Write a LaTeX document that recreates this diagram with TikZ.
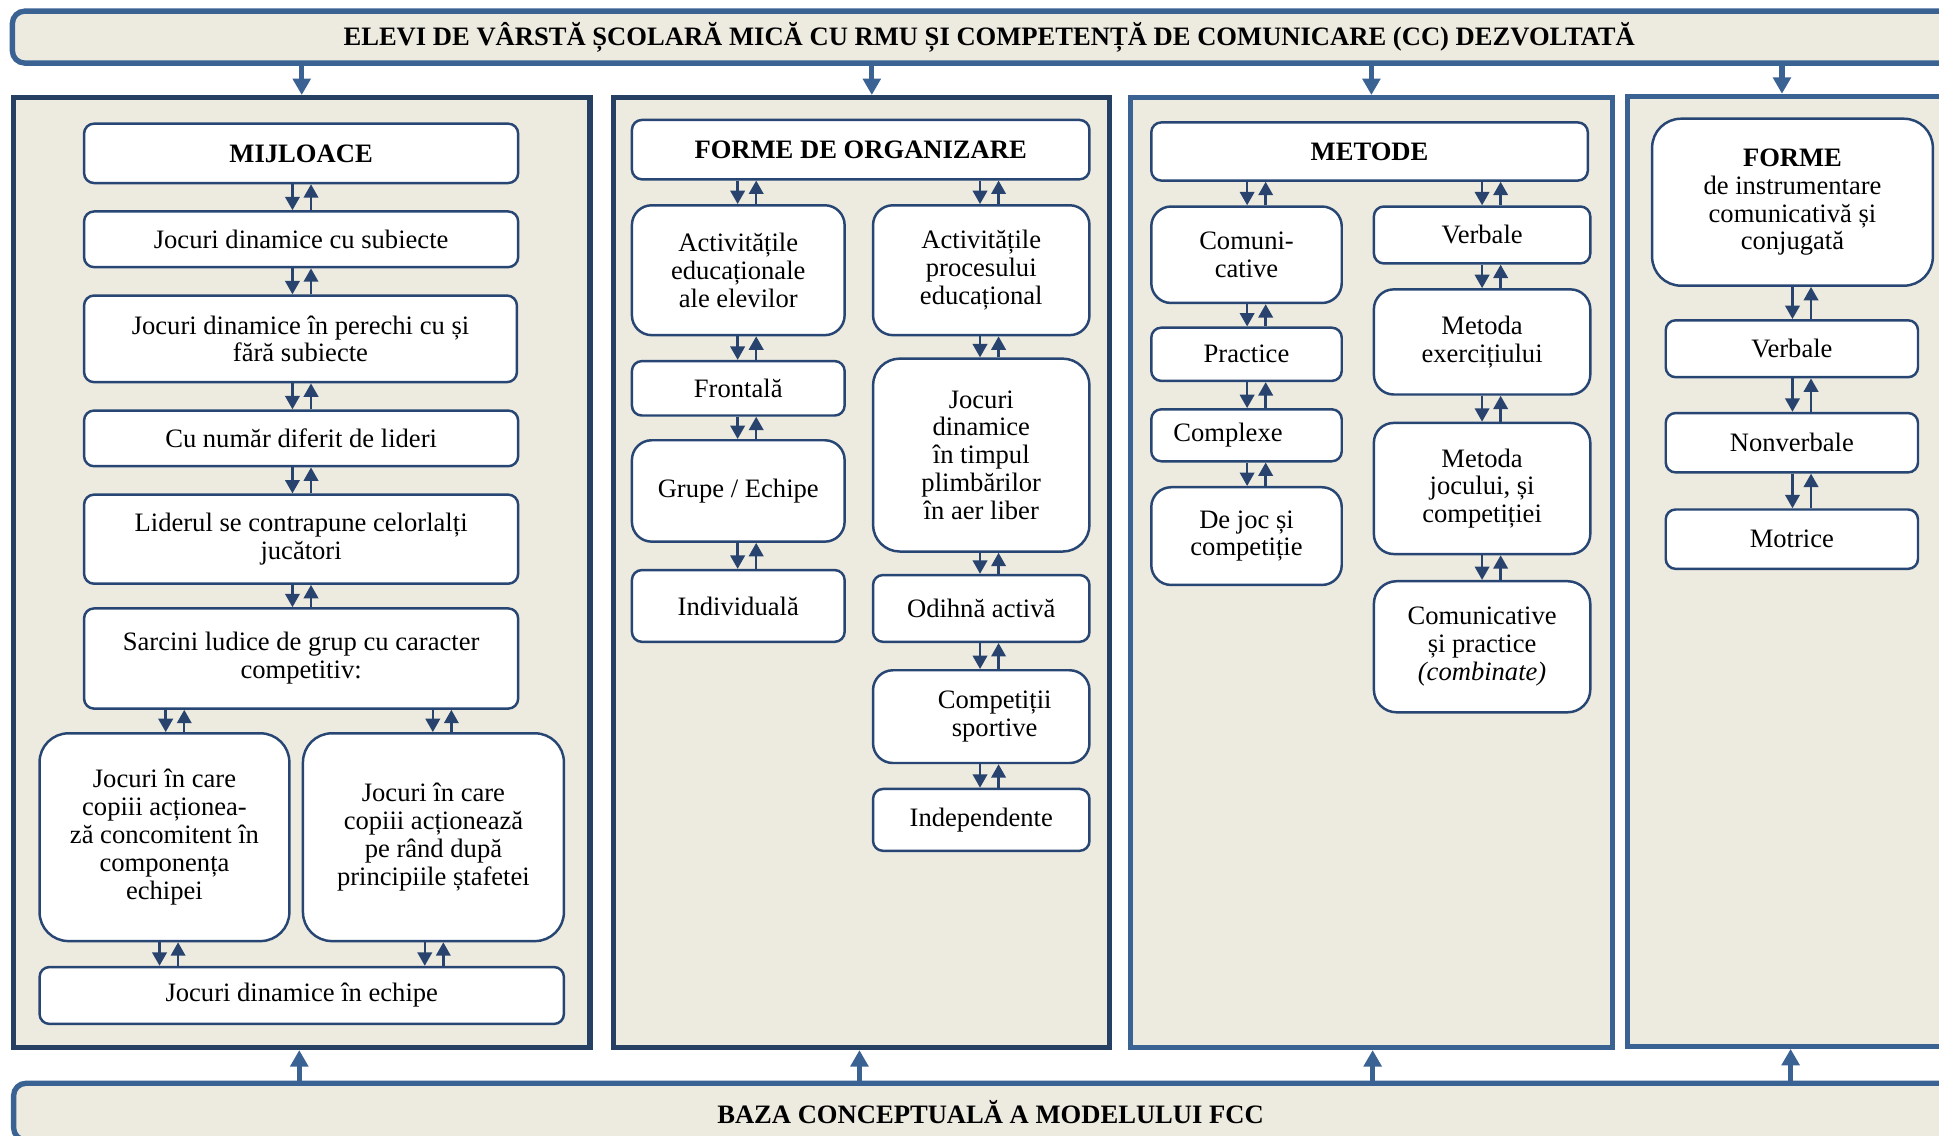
\documentclass[tikz,border=0pt]{standalone}
\usepackage{fontspec}
\setmainfont{Liberation Serif}
\usetikzlibrary{arrows.meta}
\definecolor{beige}{RGB}{237,234,224}
\definecolor{darknavy}{RGB}{38,64,100}
\definecolor{medblue}{RGB}{58,99,148}
\definecolor{nodeblue}{RGB}{40,70,115}
\definecolor{arrblue}{RGB}{40,68,110}
\newcommand\mybox[7][]{%
  \node[bx,#1,minimum width={(#4-#2)*0.6pt},minimum height={(#5-#3)*0.6pt}] (#6) at ({(#2+#4)/2},{(#3+#5)/2}) {#7};}
\newcommand\dbl[3]{%
  \coordinate (dL) at ({#3-7.5},0);
  \coordinate (dR) at ({#3+7.5},0);
  \draw[arr] (#1.south -| dL) -- (#2.north -| dL);
  \draw[arr] (#2.north -| dR) -- (#1.south -| dR);}
\begin{document}
\begin{tikzpicture}[x=0.6pt,y=-0.6pt,
  txt/.style={font=\fontsize{12.9}{13.5}\selectfont},
  bx/.style={txt,draw=nodeblue,fill=white,line width=1.2pt,rounded corners=4.8pt,align=center,inner sep=0pt},
  bigr/.style={rounded corners=9.6pt},
  hugr/.style={rounded corners=14pt},
  panel/.style={draw=#1,fill=beige,line width=2.6pt,inner sep=0pt},
  banner/.style={txt,draw=medblue,fill=beige,line width=2.6pt,rounded corners=6pt,inner sep=0pt,font=\fontsize{12.9}{13.5}\selectfont\bfseries},
  arr/.style={draw=arrblue,line width=1.2pt,-{Triangle[width=7pt,length=6.5pt]}},
  barr/.style={draw=medblue,line width=2.5pt,-{Triangle[width=8.5pt,length=8pt]}}]
\useasboundingbox (0,0) rectangle (1568,918);
\fill[white] (0,0) rectangle (1568,918);
% banners
\node[banner,minimum width={1580*0.6pt},minimum height={42*0.6pt}] (top) at (800,30) {ELEVI DE VÂRSTĂ ȘCOLARĂ MICĂ CU RMU ȘI COMPETENȚĂ DE COMUNICARE (CC) DEZVOLTATĂ};
\node[banner,minimum width={1580*0.6pt},minimum height={46*0.6pt}] (bot) at (801,899) {BAZA CONCEPTUALĂ A MODELULUI FCC};
% panels
\node[panel=darknavy,minimum width={466*0.6pt},minimum height={768*0.6pt}] (p1) at (244,463) {};
\node[panel=darknavy,minimum width={401*0.6pt},minimum height={768*0.6pt}] (p2) at (696.5,463) {};
\node[panel=medblue,minimum width={390*0.6pt},minimum height={768*0.6pt}] (p3) at (1109,463) {};
\node[panel=medblue,minimum width={290*0.6pt},minimum height={768*0.6pt}] (p4) at (1461,462) {};
% banner arrows
\foreach \p/\xa/\xb in {p1/244/242,p2/705/695,p3/1109/1110,p4/1441/1448}{
  \coordinate (ta) at (\xa,0);
  \coordinate (tb) at (\xb,0);
  \draw[barr] (top.south -| ta) -- (\p.north -| ta);
  \draw[barr] (bot.north -| tb) -- (\p.south -| tb);
}
% panel 1
\mybox[font=\fontsize{12.9}{13.5}\selectfont\bfseries]{68}{100}{419}{148}{m0}{MIJLOACE}
\mybox{68}{171}{419}{216}{m1}{Jocuri dinamice cu subiecte}
\mybox{68}{239}{418}{309}{m2}{Jocuri dinamice în perechi cu și\\fără subiecte}
\mybox{68}{332}{419}{377}{m3}{Cu număr diferit de lideri}
\mybox{68}{400}{419}{472}{m4}{Liderul se contrapune celorlalți\\jucători}
\mybox{68}{492}{419}{573}{m5}{Sarcini ludice de grup cu caracter\\competitiv:}
\mybox[hugr]{32}{593}{234}{761}{m6}{Jocuri în care\\copiii acționea-\\ză concomitent în\\componența\\echipei}
\mybox[hugr]{245}{593}{456}{761}{m7}{Jocuri în care\\copiii acționează\\pe rând după\\principiile ștafetei}
\mybox{32}{782}{456}{828}{m8}{Jocuri dinamice în echipe}
\dbl{m0}{m1}{244}
\dbl{m1}{m2}{244}
\dbl{m2}{m3}{244}
\dbl{m3}{m4}{244}
\dbl{m4}{m5}{244}
\dbl{m5}{m6}{141.5}
\dbl{m5}{m7}{357.5}
\dbl{m6}{m8}{136.5}
\dbl{m7}{m8}{351}
% panel 2
\mybox[font=\fontsize{12.9}{13.5}\selectfont\bfseries]{511}{97}{881}{145}{f0}{FORME DE ORGANIZARE}
\mybox[bigr]{511}{166}{683}{271}{f1}{Activitățile\\educaționale\\ale elevilor}
\mybox[bigr]{706}{166}{881}{271}{f2}{Activitățile\\procesului\\educațional}
\mybox{511}{292}{683}{336}{f3}{Frontală}
\mybox[bigr]{511}{356}{683}{438}{f4}{Grupe / Echipe}
\mybox{511}{461}{683}{519}{f5}{Individuală}
\mybox[rounded corners=13pt]{706}{290}{881}{446}{f6}{Jocuri\\dinamice\\în timpul\\plimbărilor\\în aer liber}
\mybox{706}{465}{881}{519}{f7}{Odihnă activă}
\node[bx,bigr,align=none,minimum width={175*0.6pt},minimum height={75*0.6pt}] (f8) at (793.5,579.5) {\hspace*{13pt}\begin{tabular}{@{}c@{}}Competiții\\sportive\end{tabular}};
\mybox{706}{638}{881}{688}{f9}{Independente}
\dbl{f0}{f1}{604}
\dbl{f0}{f2}{800}
\dbl{f1}{f3}{604}
\dbl{f3}{f4}{604}
\dbl{f4}{f5}{604}
\dbl{f2}{f6}{800}
\dbl{f6}{f7}{800}
\dbl{f7}{f8}{800}
\dbl{f8}{f9}{800}
% panel 3
\mybox[font=\fontsize{12.9}{13.5}\selectfont\bfseries]{931}{99}{1284}{146}{t0}{METODE}
\mybox[bigr]{931}{167}{1085}{245}{t1}{Comuni-\\cative}
\mybox{1111}{167}{1286}{213}{t2}{Verbale}
\mybox{931}{265}{1085}{308}{t3}{Practice}
\mybox[align=none]{931}{331}{1085}{373}{t4}{Complexe\hspace*{18pt}}
\mybox[bigr]{931}{394}{1085}{473}{t5}{De joc și\\competiție}
\mybox[bigr]{1111}{234}{1286}{319}{t6}{Metoda\\exercițiului}
\mybox[bigr]{1111}{342}{1286}{448}{t7}{Metoda\\jocului, și\\competiției}
\mybox[rounded corners=11pt]{1111}{470}{1286}{576}{t8}{Comunicative\\și practice\\\textit{(combinate)}}
\dbl{t0}{t1}{1016}
\dbl{t0}{t2}{1206}
\dbl{t1}{t3}{1016}
\dbl{t3}{t4}{1016}
\dbl{t4}{t5}{1016}
\dbl{t2}{t6}{1206}
\dbl{t6}{t7}{1206}
\dbl{t7}{t8}{1206}
% panel 4
\mybox[hugr]{1336}{96}{1563}{231}{g0}{\textbf{FORME}\\de instrumentare\\comunicativă și\\conjugată}
\mybox{1347}{259}{1551}{305}{g1}{Verbale}
\mybox{1347}{334}{1551}{382}{g2}{Nonverbale}
\mybox{1347}{412}{1551}{460}{g3}{Motrice}
\dbl{g0}{g1}{1457}
\dbl{g1}{g2}{1457}
\dbl{g2}{g3}{1457}
\end{tikzpicture}
\end{document}
